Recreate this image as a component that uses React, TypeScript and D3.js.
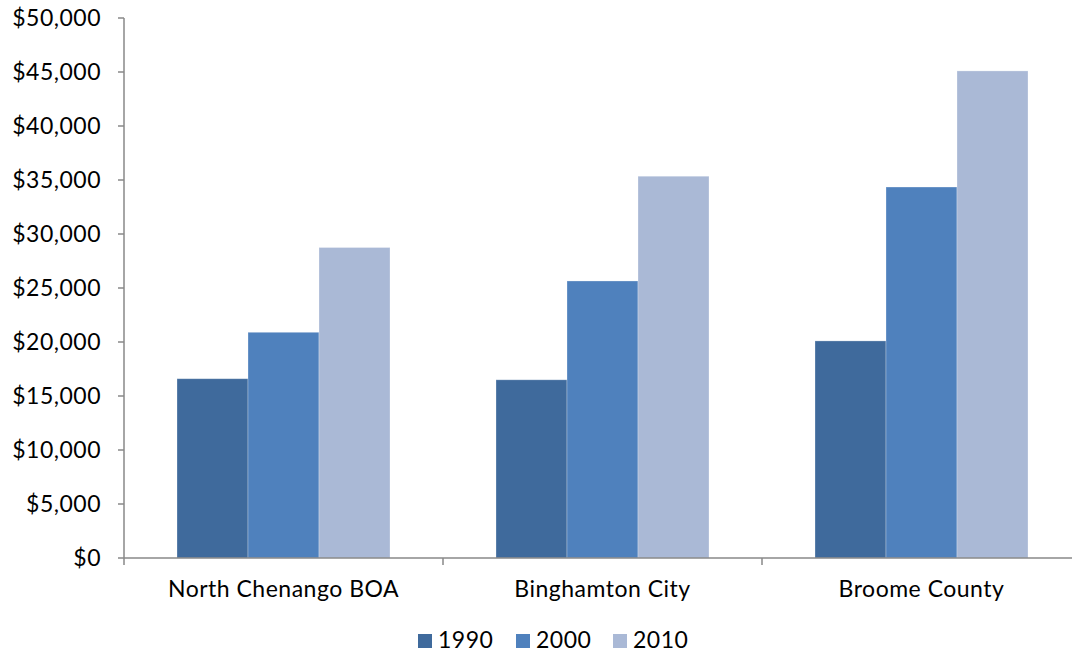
import React from "react";
import * as d3 from "d3";

const categories = ["North Chenango BOA", "Binghamton City", "Broome County"];
const seriesNames = ["1990", "2000", "2010"];
const values1990 = [16600, 16500, 20100];
const values2000 = [20900, 25650, 34350];
const values2010 = [28750, 35350, 45100];
const yTicks = [0, 5000, 10000, 15000, 20000, 25000, 30000, 35000, 40000, 45000, 50000];
const colors = ["#3F6A9C", "#4F81BD", "#AAB9D6"];

export default function App() {
  const W = 1072, H = 653;
  const left = 124, top = 18, bottom = 558, right = 1081;
  const font = "Lato, 'Open Sans', sans-serif";
  const fs = 23;
  const ls = 0.5;
  const series = [values1990, values2000, values2010];
  const y = d3.scaleLinear().domain([0, 50000]).range([bottom, top]);
  const x0 = d3.scaleBand().domain(categories).range([left, right]).paddingInner(0).paddingOuter(0);
  const bw = x0.bandwidth();
  const groupPad = 53;
  const x1 = d3.scaleBand().domain(seriesNames).range([groupPad, bw - groupPad]).padding(0);
  const fmt = (v: number) => "$" + d3.format(",")(v);
  const legendX = [418, 516, 613];

  return (
    <svg width={W} height={H} style={{ position: "absolute", left: 0, top: 0, background: "#fff" }}>
      {categories.map((c, ci) =>
        series.map((s, si) => (
          <rect
            key={c + si}
            x={(x0(c) as number) + (x1(seriesNames[si]) as number)}
            y={y(s[ci])}
            width={x1.bandwidth()}
            height={bottom - y(s[ci])}
            fill={colors[si]}
            stroke="#ffffff"
            strokeOpacity={0.35}
            strokeWidth={0.8}
          />
        ))
      )}
      <line x1={left} x2={left} y1={top} y2={bottom} stroke="#888" strokeWidth={1.5} />
      <line x1={left} x2={W} y1={bottom} y2={bottom} stroke="#888" strokeWidth={1.5} />
      {yTicks.map((t) => (
        <g key={t}>
          <line x1={left - 6} x2={left} y1={y(t)} y2={y(t)} stroke="#888" strokeWidth={1.5} />
          <text x={101} y={y(t)} dy="0.36em" textAnchor="end" fontFamily={font} fontSize={fs} letterSpacing={ls} fill="#000">
            {fmt(t)}
          </text>
        </g>
      ))}
      {[...categories.map((c) => x0(c) as number), right].map((xv, i) => (
        <line key={i} x1={xv} x2={xv} y1={bottom} y2={bottom + 7} stroke="#888" strokeWidth={1.5} />
      ))}
      {categories.map((c) => (
        <text key={c} x={(x0(c) as number) + bw / 2} y={597} textAnchor="middle" fontFamily={font} fontSize={fs} letterSpacing={ls} fill="#000">
          {c}
        </text>
      ))}
      {seriesNames.map((n, i) => (
        <g key={n}>
          <rect x={legendX[i]} y={634} width={14} height={14} fill={colors[i]} />
          <text x={legendX[i] + 20} y={648} fontFamily={font} fontSize={fs} letterSpacing={ls} fill="#000">
            {n}
          </text>
        </g>
      ))}
    </svg>
  );
}
